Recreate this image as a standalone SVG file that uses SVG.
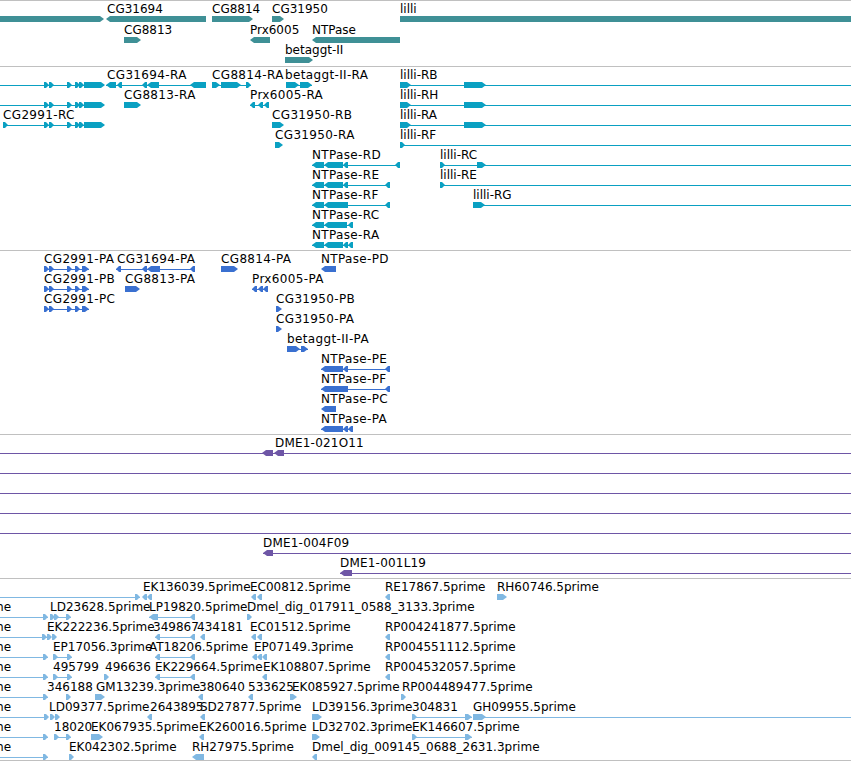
<svg xmlns="http://www.w3.org/2000/svg" width="851" height="762" viewBox="0 0 851 762">
<style>
text{font-family:"DejaVu Sans",sans-serif;font-size:12px;fill:#000}
.t text,.p text{letter-spacing:0.35px}
.c text{letter-spacing:0.2px}
.t text.n{letter-spacing:0}
.g{fill:#3f9096}
.t{fill:#0aa0c2}.t line{stroke:#0aa0c2}
.p{fill:#3a70d0}.p line{stroke:#3a70d0}
.c{fill:#6e56a6}.c line{stroke:#6e56a6}
.e{fill:#80b8e2}.e line{stroke:#80b8e2}
.dv line{stroke:#c0c0c0}
line{stroke-width:1}
</style>
<defs>
<path id="r" d="M0 -3H2L5 0L2 3H0Z"/>
<path id="l" d="M0 0L3 -3H5V3H3Z"/>
</defs>
<rect width="851" height="762" fill="#fff"/>
<g id="dividers" class="dv">
<line x1="0" y1="0.5" x2="851" y2="0.5"/>
<line x1="0" y1="66.5" x2="851" y2="66.5"/>
<line x1="0" y1="250.5" x2="851" y2="250.5"/>
<line x1="0" y1="434.5" x2="851" y2="434.5"/>
<line x1="0" y1="578.5" x2="851" y2="578.5"/>
<line x1="0" y1="760.5" x2="851" y2="760.5"/>
</g>
<g id="connectors"></g>

<!-- Gene track -->
<g id="gene-CG2991" class="g" transform="translate(0,19)"><path d="M0 -3H100L104 0L100 3H0Z"/></g>
<g id="gene-CG31694" class="g" transform="translate(0,19)"><text x="107" y="-6.5">CG31694</text><path d="M106 0L110 -3H206V3H110Z"/></g>
<g id="gene-CG8814" class="g" transform="translate(0,19)"><text x="212" y="-6.5">CG8814</text><path d="M212 -3H249L253 0L249 3H212Z"/></g>
<g id="gene-CG31950" class="g" transform="translate(0,19)"><text x="272" y="-6.5">CG31950</text><path d="M272 -3H280L284 0L280 3H272Z"/></g>
<g id="gene-lilli" class="g" transform="translate(0,19)"><text x="400" y="-6.5">lilli</text><path d="M400 -3H851V3H400Z"/></g>
<g id="gene-CG8813" class="g" transform="translate(0,40)"><text x="124" y="-6.5">CG8813</text><path d="M124 -3H137L141 0L137 3H124Z"/></g>
<g id="gene-Prx6005" class="g" transform="translate(0,40)"><text x="250" y="-6.5">Prx6005</text><path d="M250 0L254 -3H270V3H254Z"/></g>
<g id="gene-NTPase" class="g" transform="translate(0,40)"><text x="312" y="-6.5">NTPase</text><path d="M312 0L316 -3H400V3H316Z"/></g>
<g id="gene-betaggt-II" class="g" transform="translate(0,60)"><text x="285" y="-6.5">betaggt-II</text><path d="M285 -3H309L313 0L309 3H285Z"/></g>

<!-- Transcript track -->
<g id="tr-CG2991-RA" class="t" transform="translate(0,85)"><line x1="0" y1="0.5" x2="104" y2="0.5"/><use href="#r" x="44"/><use href="#r" x="49"/><use href="#r" x="67"/><use href="#r" x="75"/><use href="#r" x="79"/><path d="M84 -3H101L105 0L101 3H84Z"/></g>
<g id="tr-CG31694-RA" class="t" transform="translate(0,85)"><text x="107" y="-6.5">CG31694-RA</text><line x1="106" y1="0.5" x2="206" y2="0.5"/><path d="M106 0L110 -3H116V3H110Z"/><use href="#l" x="117"/><use href="#l" x="142"/><path d="M147 0L151 -3H159V3H151Z"/><path d="M190 0L194 -3H206V3H194Z"/></g>
<g id="tr-CG8814-RA" class="t" transform="translate(0,85)"><text x="212" y="-6.5">CG8814-RA</text><line x1="212" y1="0.5" x2="251" y2="0.5"/><path d="M212 -3H216L220 0L216 3H212Z"/><path d="M221 -3H237L241 0L237 3H221Z"/><use href="#r" x="246"/></g>
<g id="tr-betaggt-II-RA" class="t" transform="translate(0,85)"><text x="285" y="-6.5">betaggt-II-RA</text><line x1="286" y1="0.5" x2="312" y2="0.5"/><path d="M286 -3H295L299 0L295 3H286Z"/><path d="M300 -3H308L312 0L308 3H300Z"/></g>
<g id="tr-lilli-RB" class="t" transform="translate(0,85)"><text class="n" x="400" y="-6.5">lilli-RB</text><line x1="400" y1="0.5" x2="851" y2="0.5"/><path d="M400 -3H407L411 0L407 3H400Z"/><path d="M464 -3H482L486 0L482 3H464Z"/></g>

<g id="tr-CG2991-RB" class="t" transform="translate(0,105)"><line x1="0" y1="0.5" x2="104" y2="0.5"/><use href="#r" x="44"/><use href="#r" x="49"/><use href="#r" x="67"/><use href="#r" x="75"/><use href="#r" x="79"/><path d="M84 -3H101L105 0L101 3H84Z"/></g>
<g id="tr-CG8813-RA" class="t" transform="translate(0,105)"><text x="124" y="-6.5">CG8813-RA</text><path d="M124 -3H137L141 0L137 3H124Z"/></g>
<g id="tr-Prx6005-RA" class="t" transform="translate(0,105)"><text x="250" y="-6.5">Prx6005-RA</text><line x1="250" y1="0.5" x2="269" y2="0.5"/><use href="#l" x="250"/><use href="#l" x="258"/><use href="#l" x="264"/></g>
<g id="tr-lilli-RH" class="t" transform="translate(0,105)"><text class="n" x="400" y="-6.5">lilli-RH</text><line x1="400" y1="0.5" x2="851" y2="0.5"/><path d="M400 -3H407L411 0L407 3H400Z"/><path d="M464 -3H482L486 0L482 3H464Z"/></g>

<g id="tr-CG2991-RC" class="t" transform="translate(0,125)"><text x="3" y="-6.5">CG2991-RC</text><line x1="3" y1="0.5" x2="104" y2="0.5"/><use href="#r" x="3"/><use href="#r" x="44"/><use href="#r" x="49"/><use href="#r" x="67"/><use href="#r" x="75"/><use href="#r" x="79"/><path d="M84 -3H101L105 0L101 3H84Z"/></g>
<g id="tr-CG31950-RB" class="t" transform="translate(0,125)"><text x="272" y="-6.5">CG31950-RB</text><path d="M272 -3H280L284 0L280 3H272Z"/></g>
<g id="tr-lilli-RA" class="t" transform="translate(0,125)"><text class="n" x="400" y="-6.5">lilli-RA</text><line x1="400" y1="0.5" x2="851" y2="0.5"/><path d="M400 -3H407L411 0L407 3H400Z"/><path d="M464 -3H482L486 0L482 3H464Z"/></g>

<g id="tr-CG31950-RA" class="t" transform="translate(0,145)"><text x="275" y="-6.5">CG31950-RA</text><path d="M275 -3H279L283 0L279 3H275Z"/></g>
<g id="tr-lilli-RF" class="t" transform="translate(0,145)"><text class="n" x="400" y="-6.5">lilli-RF</text><line x1="400" y1="0.5" x2="851" y2="0.5"/><use href="#r" x="400"/></g>

<g id="tr-NTPase-RD" class="t" transform="translate(0,165)"><text x="312" y="-6.5">NTPase-RD</text><line x1="312" y1="0.5" x2="400" y2="0.5"/><path d="M312 0L316 -3H324V3H316Z"/><path d="M324 0L328 -3H343V3H328Z"/><use href="#l" x="343"/><use href="#l" x="395"/></g>
<g id="tr-lilli-RC" class="t" transform="translate(0,165)"><text class="n" x="440" y="-6.5">lilli-RC</text><line x1="440" y1="0.5" x2="851" y2="0.5"/><use href="#r" x="440"/><path d="M477 -3H482L486 0L482 3H477Z"/></g>

<g id="tr-NTPase-RE" class="t" transform="translate(0,185)"><text x="312" y="-6.5">NTPase-RE</text><line x1="312" y1="0.5" x2="390" y2="0.5"/><path d="M312 0L316 -3H324V3H316Z"/><path d="M324 0L328 -3H343V3H328Z"/><use href="#l" x="343"/><use href="#l" x="385"/></g>
<g id="tr-lilli-RE" class="t" transform="translate(0,185)"><text class="n" x="440" y="-6.5">lilli-RE</text><line x1="440" y1="0.5" x2="851" y2="0.5"/><use href="#r" x="440"/></g>

<g id="tr-NTPase-RF" class="t" transform="translate(0,205)"><text x="312" y="-6.5">NTPase-RF</text><line x1="312" y1="0.5" x2="390" y2="0.5"/><path d="M312 0L316 -3H324V3H316Z"/><path d="M324 0L328 -3H348V3H328Z"/><use href="#l" x="385"/></g>
<g id="tr-lilli-RG" class="t" transform="translate(0,205)"><text class="n" x="473" y="-6.5">lilli-RG</text><line x1="473" y1="0.5" x2="851" y2="0.5"/><path d="M473 -3H481L485 0L481 3H473Z"/></g>

<g id="tr-NTPase-RC" class="t" transform="translate(0,225)"><text x="312" y="-6.5">NTPase-RC</text><line x1="312" y1="0.5" x2="353" y2="0.5"/><path d="M312 0L316 -3H324V3H316Z"/><path d="M324 0L328 -3H347V3H328Z"/><use href="#l" x="348"/></g>
<g id="tr-NTPase-RA" class="t" transform="translate(0,245)"><text x="312" y="-6.5">NTPase-RA</text><line x1="312" y1="0.5" x2="353" y2="0.5"/><path d="M312 0L316 -3H324V3H316Z"/><path d="M324 0L328 -3H343V3H328Z"/><use href="#l" x="343"/><use href="#l" x="348"/></g>

<!-- Protein track -->
<g id="pr-CG2991-PA" class="p" transform="translate(0,269)"><text x="44" y="-6.5">CG2991-PA</text><line x1="44" y1="0.5" x2="89" y2="0.5"/><use href="#r" x="44"/><use href="#r" x="49"/><use href="#r" x="67"/><use href="#r" x="75"/><path d="M82 -3H85L89 0L85 3H82Z"/></g>
<g id="pr-CG31694-PA" class="p" transform="translate(0,269)"><text x="117" y="-6.5">CG31694-PA</text><line x1="116" y1="0.5" x2="195" y2="0.5"/><use href="#l" x="116"/><use href="#l" x="142"/><path d="M147 0L151 -3H160V3H151Z"/><use href="#l" x="190"/></g>
<g id="pr-CG8814-PA" class="p" transform="translate(0,269)"><text x="221" y="-6.5">CG8814-PA</text><path d="M221 -3H234L238 0L234 3H221Z"/></g>
<g id="pr-NTPase-PD" class="p" transform="translate(0,269)"><text x="321" y="-6.5">NTPase-PD</text><path d="M321 0L325 -3H336V3H325Z"/></g>

<g id="pr-CG2991-PB" class="p" transform="translate(0,289)"><text x="44" y="-6.5">CG2991-PB</text><line x1="44" y1="0.5" x2="89" y2="0.5"/><use href="#r" x="44"/><use href="#r" x="49"/><use href="#r" x="67"/><use href="#r" x="75"/><path d="M82 -3H85L89 0L85 3H82Z"/></g>
<g id="pr-CG8813-PA" class="p" transform="translate(0,289)"><text x="125" y="-6.5">CG8813-PA</text><path d="M125 -3H136L140 0L136 3H125Z"/></g>
<g id="pr-Prx6005-PA" class="p" transform="translate(0,289)"><text x="252" y="-6.5">Prx6005-PA</text><line x1="252" y1="0.5" x2="268" y2="0.5"/><use href="#l" x="252"/><use href="#l" x="258"/><use href="#l" x="263"/></g>

<g id="pr-CG2991-PC" class="p" transform="translate(0,309)"><text x="44" y="-6.5">CG2991-PC</text><line x1="44" y1="0.5" x2="89" y2="0.5"/><use href="#r" x="44"/><use href="#r" x="49"/><use href="#r" x="67"/><use href="#r" x="75"/><path d="M82 -3H85L89 0L85 3H82Z"/></g>
<g id="pr-CG31950-PB" class="p" transform="translate(0,309)"><text x="276" y="-6.5">CG31950-PB</text><path d="M276 -3H278L282 0L278 3H276Z"/></g>
<g id="pr-CG31950-PA" class="p" transform="translate(0,329)"><text x="276" y="-6.5">CG31950-PA</text><path d="M276 -3H278L282 0L278 3H276Z"/></g>
<g id="pr-betaggt-II-PA" class="p" transform="translate(0,349)"><text x="287" y="-6.5">betaggt-II-PA</text><line x1="287" y1="0.5" x2="308" y2="0.5"/><path d="M287 -3H296L300 0L296 3H287Z"/><path d="M301 -3H304L308 0L304 3H301Z"/></g>
<g id="pr-NTPase-PE" class="p" transform="translate(0,369)"><text x="321" y="-6.5">NTPase-PE</text><line x1="321" y1="0.5" x2="390" y2="0.5"/><path d="M321 0L325 -3H343V3H325Z"/><use href="#l" x="343"/><use href="#l" x="385"/></g>
<g id="pr-NTPase-PF" class="p" transform="translate(0,389)"><text x="321" y="-6.5">NTPase-PF</text><line x1="321" y1="0.5" x2="390" y2="0.5"/><path d="M321 0L325 -3H348V3H325Z"/><use href="#l" x="385"/></g>
<g id="pr-NTPase-PC" class="p" transform="translate(0,409)"><text x="321" y="-6.5">NTPase-PC</text><path d="M321 0L325 -3H336V3H325Z"/></g>
<g id="pr-NTPase-PA" class="p" transform="translate(0,429)"><text x="321" y="-6.5">NTPase-PA</text><line x1="321" y1="0.5" x2="353" y2="0.5"/><path d="M321 0L325 -3H343V3H325Z"/><use href="#l" x="343"/><use href="#l" x="348"/></g>

<!-- Clone track -->
<g id="cl-DME1-021O11" class="c" transform="translate(0,453)"><text x="275" y="-6.5">DME1-021O11</text><line x1="0" y1="0.5" x2="851" y2="0.5"/><path d="M262 0L266 -3H273V3H266Z"/><path d="M274 0L278 -3H284V3H278Z"/></g>
<g id="cl-row2" class="c" transform="translate(0,473)"><line x1="0" y1="0.5" x2="851" y2="0.5"/></g>
<g id="cl-row3" class="c" transform="translate(0,493)"><line x1="0" y1="0.5" x2="851" y2="0.5"/></g>
<g id="cl-row4" class="c" transform="translate(0,513)"><line x1="0" y1="0.5" x2="851" y2="0.5"/></g>
<g id="cl-row5" class="c" transform="translate(0,533)"><line x1="0" y1="0.5" x2="851" y2="0.5"/></g>
<g id="cl-DME1-004F09" class="c" transform="translate(0,553)"><text x="263" y="-6.5">DME1-004F09</text><line x1="263" y1="0.5" x2="851" y2="0.5"/><path d="M263 0L267 -3H273V3H267Z"/></g>
<g id="cl-DME1-001L19" class="c" transform="translate(0,573)"><text x="340" y="-6.5">DME1-001L19</text><line x1="340" y1="0.5" x2="851" y2="0.5"/><path d="M340 0L344 -3H352V3H344Z"/></g>

<!-- EST track -->
<g id="est-r1-long" class="e" transform="translate(0,597)"><line x1="0" y1="0.5" x2="140" y2="0.5"/><use href="#r" x="135"/></g>
<g id="est-EK136039" class="e" transform="translate(0,597)"><text x="143" y="-6.5">EK136039.5prime</text><use href="#l" x="142"/><use href="#l" x="147"/></g>
<g id="est-EC00812" class="e" transform="translate(0,597)"><text x="250" y="-6.5">EC00812.5prime</text><use href="#l" x="251"/><use href="#l" x="257"/></g>
<g id="est-RE17867" class="e" transform="translate(0,597)"><text x="385" y="-6.5">RE17867.5prime</text><use href="#l" x="385"/></g>
<g id="est-RH60746" class="e" transform="translate(0,597)"><text x="497" y="-6.5">RH60746.5prime</text><path d="M497 -3H503L507 0L503 3H497Z"/></g>

<g id="est-r2-long" class="e" transform="translate(0,617)"><text x="-8" y="-6.5">me</text><line x1="0" y1="0.5" x2="48" y2="0.5"/><use href="#r" x="43"/></g>
<g id="est-LD23628" class="e" transform="translate(0,617)"><text x="50" y="-6.5">LD23628.5prime</text><line x1="50" y1="0.5" x2="71" y2="0.5"/><use href="#r" x="50"/><use href="#r" x="54"/><use href="#r" x="66"/></g>
<g id="est-LP19820" class="e" transform="translate(0,617)"><text x="149" y="-6.5">LP19820.5prime</text><line x1="149" y1="0.5" x2="195" y2="0.5"/><path d="M149 0L153 -3H158V3H153Z"/><use href="#l" x="190"/></g>
<g id="est-Dmel_dig_017911" class="e" transform="translate(0,617)"><text x="247" y="-6.5">Dmel_dig_017911_0588_3133.3prime</text><use href="#r" x="247"/></g>

<g id="est-r3-long" class="e" transform="translate(0,637)"><text x="-8" y="-6.5">me</text><line x1="0" y1="0.5" x2="47" y2="0.5"/><use href="#r" x="42"/></g>
<g id="est-EK222236" class="e" transform="translate(0,637)"><text x="47" y="-6.5">EK222236.5prime</text><use href="#r" x="47"/><use href="#r" x="52"/></g>
<g id="est-349867" class="e" transform="translate(0,637)"><text x="153" y="-6.5">349867</text><line x1="155" y1="0.5" x2="195" y2="0.5"/><use href="#l" x="155"/><use href="#l" x="190"/></g>
<g id="est-434181" class="e" transform="translate(0,637)"><text x="197" y="-6.5">434181</text><use href="#l" x="200"/></g>
<g id="est-EC01512" class="e" transform="translate(0,637)"><text x="250" y="-6.5">EC01512.5prime</text><use href="#l" x="251"/><use href="#l" x="257"/></g>
<g id="est-RP004241877" class="e" transform="translate(0,637)"><text x="385" y="-6.5">RP004241877.5prime</text><use href="#l" x="385"/></g>

<g id="est-r4-long" class="e" transform="translate(0,657)"><text x="-8" y="-6.5">me</text><line x1="0" y1="0.5" x2="48" y2="0.5"/><use href="#r" x="43"/></g>
<g id="est-EP17056" class="e" transform="translate(0,657)"><text x="53" y="-6.5">EP17056.3prime</text><line x1="53" y1="0.5" x2="72" y2="0.5"/><use href="#r" x="53"/><use href="#r" x="67"/></g>
<g id="est-AT18206" class="e" transform="translate(0,657)"><text x="149" y="-6.5">AT18206.5prime</text><line x1="155" y1="0.5" x2="195" y2="0.5"/><use href="#l" x="155"/><use href="#l" x="190"/></g>
<g id="est-EP07149" class="e" transform="translate(0,657)"><text x="254" y="-6.5">EP07149.3prime</text><use href="#l" x="252"/><use href="#l" x="257"/><use href="#l" x="262"/></g>
<g id="est-RP004551112" class="e" transform="translate(0,657)"><text x="385" y="-6.5">RP004551112.5prime</text><use href="#l" x="385"/></g>

<g id="est-r5-long" class="e" transform="translate(0,677)"><text x="-8" y="-6.5">me</text><line x1="0" y1="0.5" x2="48" y2="0.5"/><use href="#r" x="43"/></g>
<g id="est-495799" class="e" transform="translate(0,677)"><text x="53" y="-6.5">495799</text><line x1="53" y1="0.5" x2="72" y2="0.5"/><use href="#r" x="53"/><use href="#r" x="67"/></g>
<g id="est-496636" class="e" transform="translate(0,677)"><text x="105" y="-6.5">496636</text><use href="#r" x="104"/></g>
<g id="est-EK229664" class="e" transform="translate(0,677)"><text x="155" y="-6.5">EK229664.5prime</text><line x1="155" y1="0.5" x2="195" y2="0.5"/><use href="#l" x="155"/><use href="#l" x="190"/></g>
<g id="est-EK108807" class="e" transform="translate(0,677)"><text x="263" y="-6.5">EK108807.5prime</text><use href="#l" x="262"/></g>
<g id="est-RP004532057" class="e" transform="translate(0,677)"><text x="385" y="-6.5">RP004532057.5prime</text><use href="#l" x="385"/></g>

<g id="est-r6-long" class="e" transform="translate(0,697)"><text x="-8" y="-6.5">me</text><line x1="0" y1="0.5" x2="48" y2="0.5"/><use href="#r" x="43"/></g>
<g id="est-346188" class="e" transform="translate(0,697)"><text x="47" y="-6.5">346188</text><use href="#r" x="66"/></g>
<g id="est-GM13239" class="e" transform="translate(0,697)"><text x="96" y="-6.5">GM13239.3prime</text><path d="M95 -3H101L105 0L101 3H95Z"/></g>
<g id="est-380640" class="e" transform="translate(0,697)"><text x="199" y="-6.5">380640</text><use href="#l" x="198"/></g>
<g id="est-533625" class="e" transform="translate(0,697)"><text x="248" y="-6.5">533625</text><use href="#l" x="248"/></g>
<g id="est-EK085927" class="e" transform="translate(0,697)"><text x="292" y="-6.5">EK085927.5prime</text><path d="M290 -3H293L297 0L293 3H290Z"/></g>
<g id="est-RP004489477" class="e" transform="translate(0,697)"><text x="402" y="-6.5">RP004489477.5prime</text><use href="#r" x="401"/></g>

<g id="est-r7-long" class="e" transform="translate(0,717)"><text x="-8" y="-6.5">me</text><line x1="0" y1="0.5" x2="48" y2="0.5"/><use href="#r" x="44"/></g>
<g id="est-LD09377" class="e" transform="translate(0,717)"><text x="49" y="-6.5">LD09377.5prime</text><use href="#r" x="50"/><use href="#r" x="55"/></g>
<g id="est-2643895" class="e" transform="translate(0,717)"><text x="150" y="-6.5">2643895</text><use href="#l" x="147"/></g>
<g id="est-SD27877" class="e" transform="translate(0,717)"><text x="200" y="-6.5">SD27877.5prime</text><use href="#l" x="200"/></g>
<g id="est-LD39156" class="e" transform="translate(0,717)"><text x="312" y="-6.5">LD39156.3prime</text><path d="M312 -3H318L322 0L318 3H312Z"/></g>
<g id="est-304831" class="e" transform="translate(0,717)"><text x="412" y="-6.5">304831</text><line x1="412" y1="0.5" x2="472" y2="0.5"/><use href="#r" x="412"/><path d="M465 -3H468L472 0L468 3H465Z"/></g>
<g id="est-GH09955" class="e" transform="translate(0,717)"><text x="473" y="-6.5">GH09955.5prime</text><line x1="473" y1="0.5" x2="851" y2="0.5"/><path d="M473 -3H482L486 0L482 3H473Z"/></g>

<g id="est-r8-long" class="e" transform="translate(0,737)"><text x="-8" y="-6.5">me</text><line x1="0" y1="0.5" x2="48" y2="0.5"/><use href="#r" x="43"/></g>
<g id="est-18020" class="e" transform="translate(0,737)"><text x="54" y="-6.5">18020</text><line x1="54" y1="0.5" x2="71" y2="0.5"/><use href="#r" x="54"/><use href="#r" x="66"/></g>
<g id="est-EK067935" class="e" transform="translate(0,737)"><text x="91" y="-6.5">EK067935.5prime</text><path d="M91 -3H99L103 0L99 3H91Z"/></g>
<g id="est-EK260016" class="e" transform="translate(0,737)"><text x="199" y="-6.5">EK260016.5prime</text><use href="#l" x="199"/></g>
<g id="est-LD32702" class="e" transform="translate(0,737)"><text x="312" y="-6.5">LD32702.3prime</text><path d="M312 -3H316L320 0L316 3H312Z"/></g>
<g id="est-EK146607" class="e" transform="translate(0,737)"><text x="412" y="-6.5">EK146607.5prime</text><line x1="412" y1="0.5" x2="472" y2="0.5"/><use href="#r" x="412"/><path d="M465 -3H468L472 0L468 3H465Z"/></g>

<g id="est-r9-long" class="e" transform="translate(0,757)"><text x="-8" y="-6.5">me</text><line x1="0" y1="0.5" x2="48" y2="0.5"/><use href="#r" x="43"/></g>
<g id="est-EK042302" class="e" transform="translate(0,757)"><text x="69" y="-6.5">EK042302.5prime</text><use href="#r" x="69"/></g>
<g id="est-RH27975" class="e" transform="translate(0,757)"><text x="192" y="-6.5">RH27975.5prime</text><path d="M192 0L196 -3H204V3H196Z"/></g>
<g id="est-Dmel_dig_009145" class="e" transform="translate(0,757)"><text x="312" y="-6.5">Dmel_dig_009145_0688_2631.3prime</text><use href="#l" x="312"/></g>
</svg>
